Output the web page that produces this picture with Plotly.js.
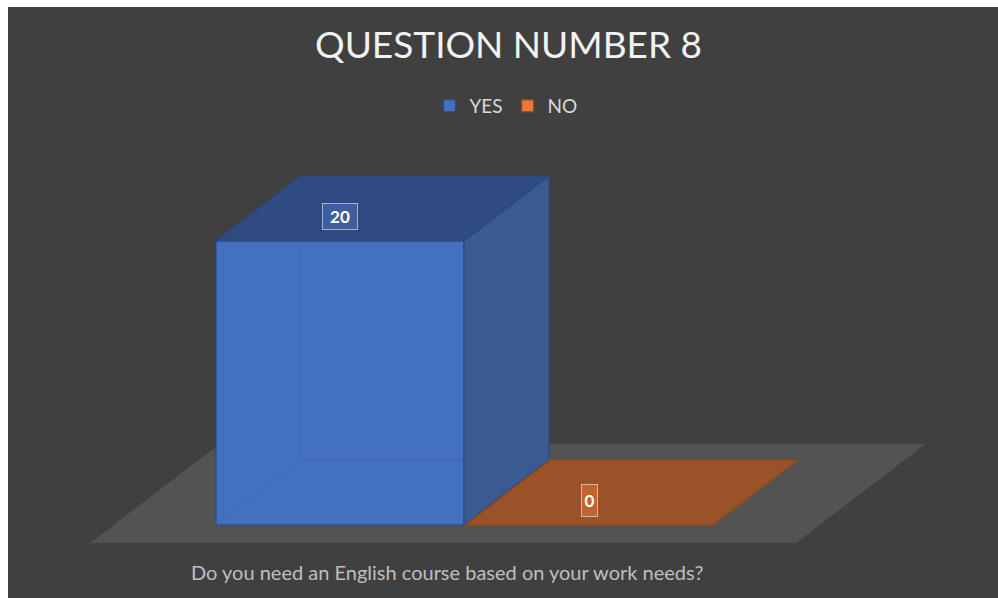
<!DOCTYPE html>
<html>
<head>
<meta charset="utf-8">
<script src="https://cdn.plot.ly/plotly-3.0.1.min.js"></script>
<style>
  html, body { margin: 0; padding: 0; background: #ffffff; }
  #chart { position: absolute; left: 8px; top: 7px; width: 990px; height: 591px; }
</style>
</head>
<body>
<div id="chart"></div>
<script>
// ---- data ----
const categories = ["YES", "NO"];
const values = [20, 0];
const chartTitle = "QUESTION NUMBER 8";
const axisTitle = "Do you need an English course based on your work needs?";

// ---- styles ----
const frontColors = ["rgba(68,114,196,0.97)", "rgba(237,125,49,0.97)"];
const topColors   = ["#2f4b7f", "#9a5228"];
const sideColors  = ["#3a5a92", "#8a4a22"];
const edgeColors  = ["#2c4a85", "#8a4a1e"];
const labelBg     = ["#3e5f9e", "#c0652e"];
const labelBox    = [{w: 32, h: 23}, {w: 13, h: 29}];

// oblique projection constants (axis units)
const BW = 0.996;      // bar width
const DX = 0.3414;     // horizontal depth offset
const DY = 4.58;       // vertical depth offset (value units)
function P(x, v, z) { return [x + z * DX, v + z * DY]; }
function poly(pts) {
  const xs = [], ys = [];
  pts.forEach(p => { xs.push(p[0]); ys.push(p[1]); });
  xs.push(pts[0][0]); ys.push(pts[0][1]);
  return {x: xs, y: ys};
}

const traces = [];
const shapes = [];

// floor (decorative plane)
const n = categories.length;
const zf = -0.277, zb = 1.246;
const fl = [P(-0.909, 0, zf), P(n - 1 + 0.926, 0, zf), P(n - 1 + 0.926, 0, zb), P(-0.909, 0, zb)];
shapes.push({
  type: "path", layer: "below", xref: "x", yref: "y",
  path: "M" + fl.map(p => p[0] + "," + p[1]).join(" L") + " Z",
  fillcolor: "#535353", line: {width: 0}
});

// front faces as real bars (carry the legend)
categories.forEach((c, i) => {
  traces.push({
    type: "bar", name: c, x: [i], y: [values[i]], width: BW,
    marker: {color: frontColors[i], line: {color: edgeColors[i], width: 1.2}},
    hoverinfo: "skip", showlegend: true
  });
});

// hidden back edges, side and top faces
categories.forEach((c, i) => {
  const v = values[i], h = BW / 2;
  if (v > 0) {
    const e1 = [P(i - h, 0, 0), P(i - h, 0, 1), P(i + h, 0, 1)];
    const e2 = [P(i - h, 0, 1), P(i - h, v, 1)];
    [e1, e2].forEach(e => traces.push({
      type: "scatter", mode: "lines", x: e.map(p => p[0]), y: e.map(p => p[1]),
      line: {color: "rgba(40,70,130,0.18)", width: 1}, hoverinfo: "skip", showlegend: false
    }));
    const side = poly([P(i + h, 0, 0), P(i + h, v, 0), P(i + h, v, 1), P(i + h, 0, 1)]);
    traces.push({
      type: "scatter", mode: "lines", x: side.x, y: side.y, fill: "toself",
      fillcolor: sideColors[i], line: {color: edgeColors[i], width: 1.2},
      hoverinfo: "skip", showlegend: false
    });
  }
  const top = poly([P(i - h, v, 0), P(i + h, v, 0), P(i + h, v, 1), P(i - h, v, 1)]);
  traces.push({
    type: "scatter", mode: "lines", x: top.x, y: top.y, fill: "toself",
    fillcolor: topColors[i], line: {color: edgeColors[i], width: 1.2},
    hoverinfo: "skip", showlegend: false
  });
});

// data labels
const annotations = categories.map((c, i) => ({
  x: i, y: values[i], xref: "x", yref: "y", yshift: 25, showarrow: false,
  text: "<b>" + values[i] + "</b>",
  font: {family: "Lato, 'Open Sans', sans-serif", size: 17, color: "#ffffff"},
  bgcolor: labelBg[i], bordercolor: "rgba(255,255,255,0.55)", borderwidth: 1, borderpad: 1,
  width: labelBox[i].w, height: labelBox[i].h
}));
annotations.push({
  xref: "paper", yref: "paper", x: 0.4434, y: 0.044, xanchor: "center", yanchor: "middle",
  showarrow: false, text: axisTitle,
  font: {family: "Lato, 'Open Sans', sans-serif", size: 20, color: "#bfbfbf"}
});

const PXU = 249, PXV = 14.2;
const layout = {
  width: 990, height: 591,
  margin: {l: 0, r: 0, t: 0, b: 0, pad: 0},
  paper_bgcolor: "#404040", plot_bgcolor: "rgba(0,0,0,0)",
  title: {
    text: chartTitle, x: 0.5056, y: 0.936, xanchor: "center", yanchor: "middle",
    xref: "paper", yref: "paper",
    font: {family: "Lato, 'Open Sans', sans-serif", size: 37, color: "#f2f2f2"}
  },
  showlegend: true,
  legend: {
    orientation: "h", x: 0.503, y: 0.8325, xanchor: "center", yanchor: "middle",
    font: {family: "Lato, 'Open Sans', sans-serif", size: 19, color: "#d9d9d9"},
    bgcolor: "rgba(0,0,0,0)", itemwidth: 30, traceorder: "normal"
  },
  xaxis: {range: [-332 / PXU, -332 / PXU + 990 / PXU], visible: false, fixedrange: true},
  yaxis: {range: [(518 - 591) / PXV, 518 / PXV], visible: false, fixedrange: true},
  barmode: "overlay",
  shapes: shapes,
  annotations: annotations
};

Plotly.newPlot("chart", traces, layout, {displayModeBar: false, staticPlot: true});
</script>
</body>
</html>
